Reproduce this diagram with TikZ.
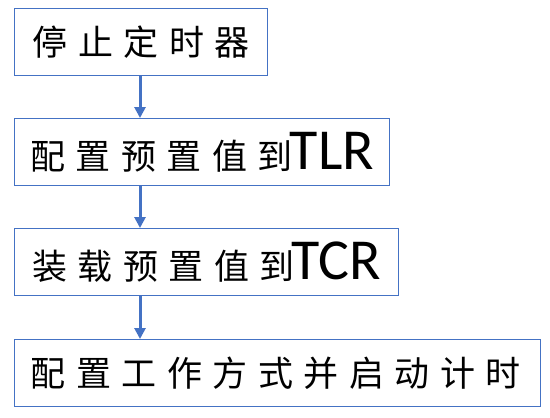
\documentclass[tikz,border=0pt]{standalone}
\usepackage{fontspec}
\setmainfont{Carlito}
\newfontfamily\cjk[LetterSpace=30]{Noto Sans CJK SC}
\usetikzlibrary{arrows.meta}
\definecolor{boxblue}{RGB}{68,114,196}

\begin{document}
\begin{tikzpicture}[x=1pt, y=-1pt, minimum height=67pt, font=\fontsize{35}{40}\selectfont]
    \tikzstyle{every node} = [rectangle, draw=boxblue, line width=1.3pt, anchor=north west, inner sep=0pt]
    \useasboundingbox (0,0) rectangle (550,418);

    \node (a) at (14, 8) [minimum width=253pt] {\cjk 停止定时器};
    \node (b) at (14, 118) [minimum width=375pt] {{\cjk 配置预置值到\kern-3pt}{\fontsize{58}{60}\selectfont TLR}};
    \node (c) at (14, 228) [minimum width=384pt] {{\cjk 装载预置值到\kern-3pt}{\fontsize{58}{60}\selectfont TCR}};
    \node (d) at (14, 339) [minimum width=526pt] {\cjk 配置工作方式并启动计时\kern4pt};

    \coordinate (x) at (140, 0);

    \draw [-{Triangle[width=11pt,length=11pt]}, boxblue, line width=3pt] (a.south -| x) -- (b.north -| x);
    \draw [-{Triangle[width=11pt,length=11pt]}, boxblue, line width=3pt] (b.south -| x) -- (c.north -| x);
    \draw [-{Triangle[width=11pt,length=11pt]}, boxblue, line width=3pt] (c.south -| x) -- (d.north -| x);
\end{tikzpicture}
\end{document}
